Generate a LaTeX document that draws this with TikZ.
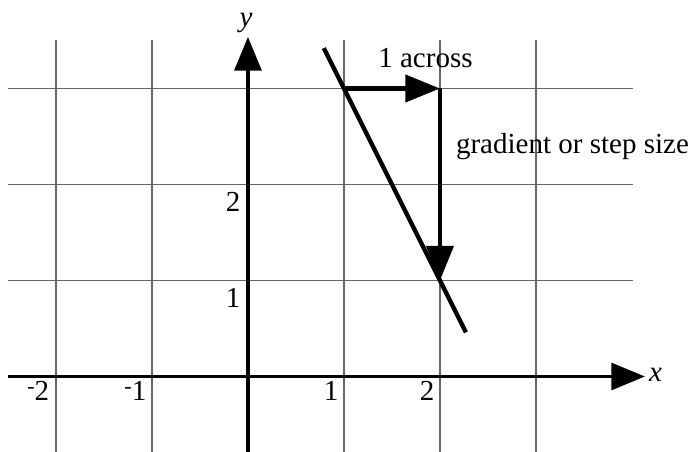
\documentclass[tikz,border=0pt]{standalone}
\usepackage{fontspec}
\setmainfont{Liberation Serif}
\usetikzlibrary{arrows.meta}
\tikzset{
	gridline/.style={black!60, line width=0.4pt},
	axis/.style={line width=1pt, -{Triangle[length=0.35cm,width=0.28cm]}},
	graphline/.style={line width=1.3pt},
	steparrow/.style={line width=1.3pt, -{Triangle[length=0.36cm,width=0.28cm]}},
	lbl/.style={inner sep=0pt, font=\fontsize{8.6}{10.5}\selectfont},
}
\newcommand{\rminus}{\raisebox{0.25em}{\fontsize{6.5}{7}\selectfont -}}

\begin{document}
\begin{tikzpicture}
	\useasboundingbox (-2.583,-0.786) rectangle (4.646,3.922);
	
	% Grid
	\foreach \gx in {-2,-1,1,2,3}
		\draw[gridline] (\gx,-0.786) -- (\gx,3.505);
	\foreach \gy in {1,2,3}
		\draw[gridline] (-2.5,\gy) -- (4.01,\gy);
	
	% Axes
	\coordinate (xstart) at (-2.5,0);
	\coordinate (xend) at (4.135,0);
	\coordinate (ystart) at (0,-0.786);
	\coordinate (yend) at (0,3.537);
	\draw[axis] (xstart) -- (xend);
	\draw[axis] (ystart) -- (yend);
	\node[lbl, anchor=base] (xlab) at (4.245,-0.057) {\textit{x}};
	\node[lbl, anchor=base] (ylab) at (-0.02,3.65) {\textit{y}};
	
	% Axis numbers
	\node[lbl, anchor=base east] (xm2) at (-2.063,-0.255) {\rminus 2};
	\node[lbl, anchor=base east] (xm1) at (-1.052,-0.255) {\rminus 1};
	\node[lbl, anchor=base east] (xp1) at (0.948,-0.255) {1};
	\node[lbl, anchor=base east] (xp2) at (1.948,-0.255) {2};
	\node[lbl, anchor=base east] (yp1) at (-0.073,0.714) {1};
	\node[lbl, anchor=base east] (yp2) at (-0.073,1.714) {2};
	
	% Line
	\coordinate (ltop) at (0.79,3.42);
	\coordinate (lbot) at (2.27,0.46);
	\draw[graphline] (ltop) -- (lbot);
	
	% Step
	\coordinate (sa) at (1,3);
	\coordinate (sb) at (2,3);
	\coordinate (sc) at (2,1);
	\draw[steparrow] (sa) -- (sb);
	\draw[steparrow] (sb) -- (sc);
	\node[lbl, anchor=base] (across) at (1.849,3.214) {1 across};
	\node[lbl, anchor=base] (grad) at (3.38,2.325) {gradient or step size};
\end{tikzpicture}
\end{document}
